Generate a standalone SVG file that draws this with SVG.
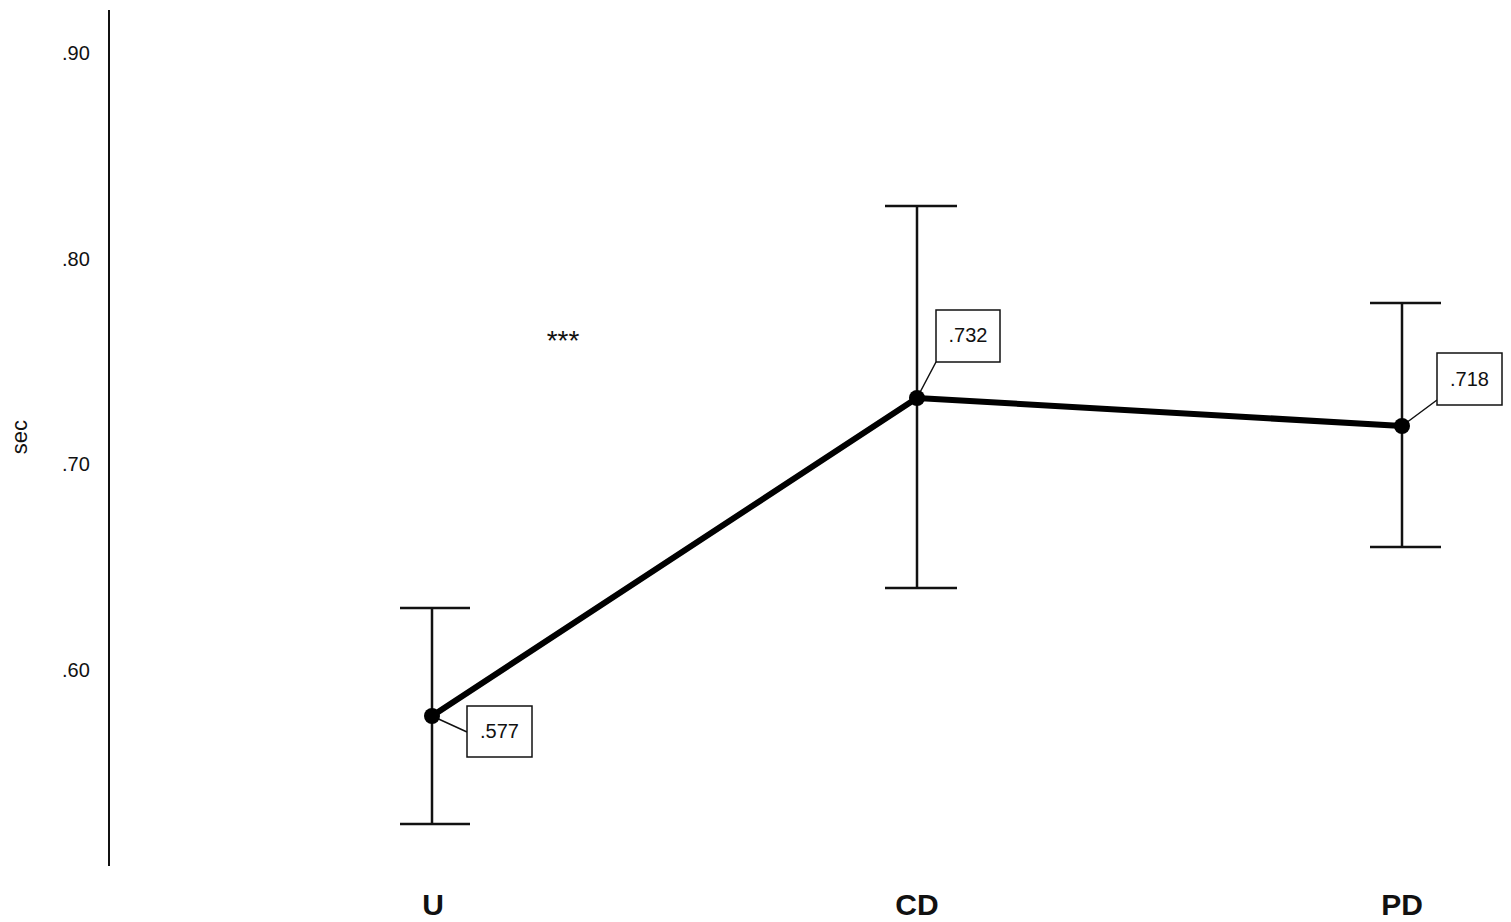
<svg xmlns="http://www.w3.org/2000/svg" width="1511" height="922" viewBox="0 0 1511 922">
<style>
.t{font-family:"Liberation Sans",Arial,sans-serif;font-size:20px;fill:#111}
.b{font-family:"Liberation Sans",Arial,sans-serif;font-size:30px;font-weight:bold;fill:#111;text-anchor:middle}
.e{stroke:#111;stroke-width:2.5;fill:none}
.box{fill:#fff;stroke:#111;stroke-width:1.5}
</style>
<rect width="1511" height="922" fill="#fff"/>
<g id="axis">
<line x1="109" y1="10" x2="109" y2="866" stroke="#111" stroke-width="2"/>
<text class="t" x="62" y="60">.90</text>
<text class="t" x="62" y="266">.80</text>
<text class="t" x="62" y="471">.70</text>
<text class="t" x="62" y="677">.60</text>
<text class="t" transform="translate(27,437) rotate(-90)" text-anchor="middle" style="font-size:22px">sec</text>
<text class="b" x="433" y="915">U</text>
<text class="b" x="917" y="915">CD</text>
<text class="b" x="1402" y="915">PD</text>
</g>
<g id="connectors">
<path class="e" d="M432 608V824M400 608H470M400 824H470"/>
<path class="e" d="M917 206V588M885 206H957M885 588H957"/>
<path class="e" d="M1402 303V547M1370 303H1441M1370 547H1441"/>
<polyline points="432,716 917,398 1402,426" fill="none" stroke="#000" stroke-width="6" stroke-linejoin="round"/>
<path stroke="#111" stroke-width="1.5" d="M432 716L467 732M917 398L936 362M1402 426L1437 400"/>
</g>
<g id="nodes">
<circle cx="432" cy="716" r="8" fill="#000"/>
<circle cx="917" cy="398" r="8" fill="#000"/>
<circle cx="1402" cy="426" r="8" fill="#000"/>
<rect class="box" x="467" y="706" width="65" height="51"/><text class="t" x="499.5" y="738" text-anchor="middle">.577</text>
<rect class="box" x="936" y="310" width="64" height="52"/><text class="t" x="968" y="342" text-anchor="middle">.732</text>
<rect class="box" x="1437" y="353" width="65" height="52"/><text class="t" x="1469.5" y="386" text-anchor="middle">.718</text>
<text class="t" x="563" y="350" text-anchor="middle" style="font-size:28px">***</text>
</g>
</svg>
